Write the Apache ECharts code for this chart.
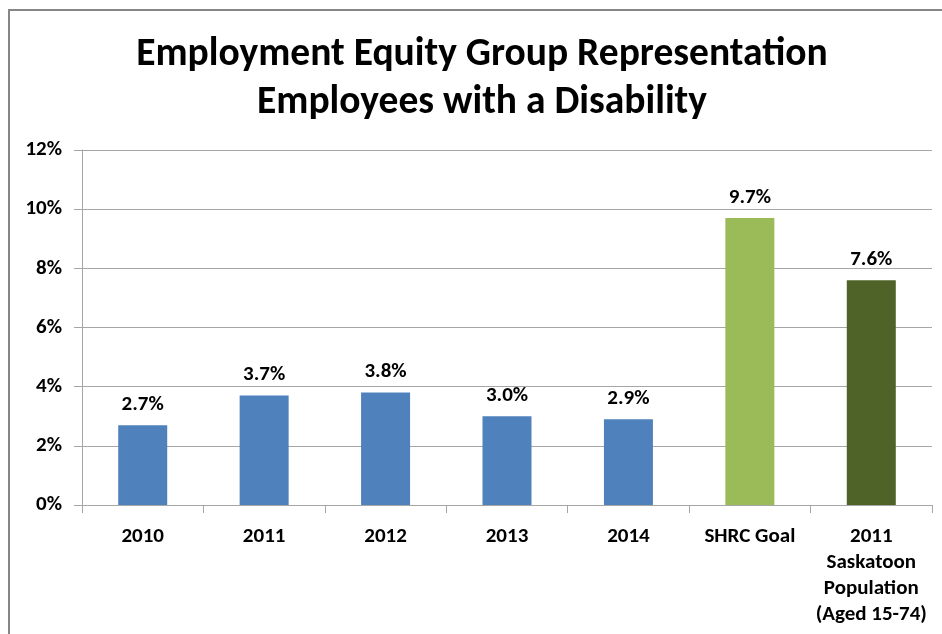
<!DOCTYPE html>
<html>
<head>
<meta charset="utf-8">
<script src="https://cdn.jsdelivr.net/npm/echarts@6/dist/echarts.min.js"></script>
<style>
  html, body { margin: 0; padding: 0; background: #fff; }
  #chart { width: 942px; height: 634px; }
</style>
</head>
<body>
<div id="chart"></div>
<script>
// Category names along the x axis
var categories = ['2010', '2011', '2012', '2013', '2014', 'SHRC Goal', '2011\nSaskatoon\nPopulation\n(Aged 15-74)'];
// Representation rate (%) for each category
var values = [2.7, 3.7, 3.8, 3.0, 2.9, 9.7, 7.6];
// Fill colour for each bar
var barColors = ['#4F81BD', '#4F81BD', '#4F81BD', '#4F81BD', '#4F81BD', '#9BBB59', '#4F6228'];
// Y axis range
var yMin = 0, yMax = 12, yStep = 2;

var FONT = 'Carlito, Calibri, Lato, sans-serif';

var chart = echarts.init(document.getElementById('chart'), null, { renderer: 'canvas' });

chart.setOption({
  backgroundColor: '#ffffff',
  animation: false,
  title: {
    text: 'Employment Equity Group Representation\nEmployees with a Disability',
    left: 477,
    top: 26,
    textAlign: 'center',
    textStyle: {
      fontFamily: FONT,
      fontWeight: 'bold',
      fontSize: 39.5,
      lineHeight: 48,
      color: '#000'
    }
  },
  graphic: [{
    type: 'rect',
    shape: { x: 9, y: 10, width: 960, height: 700 },
    style: { fill: 'none', stroke: '#868686', lineWidth: 2 },
    silent: true
  }],
  grid: { left: 82, right: 10, top: 150, bottom: 129 },
  xAxis: {
    type: 'category',
    data: categories,
    axisLine: { lineStyle: { color: '#A6A6A6', width: 1 } },
    axisTick: { show: true, length: 8, lineStyle: { color: '#A6A6A6' } },
    axisLabel: {
      interval: 0,
      margin: 19,
      fontFamily: FONT,
      fontWeight: 'bold',
      fontSize: 21,
      lineHeight: 26,
      color: '#000'
    }
  },
  yAxis: {
    type: 'value',
    min: yMin,
    max: yMax,
    interval: yStep,
    axisLine: { show: true, lineStyle: { color: '#A6A6A6', width: 1 } },
    axisTick: { show: true, length: 8, lineStyle: { color: '#A6A6A6' } },
    splitLine: { show: true, lineStyle: { color: '#A6A6A6', width: 1 } },
    axisLabel: {
      margin: 20,
      formatter: '{value}%',
      fontFamily: FONT,
      fontWeight: 'bold',
      fontSize: 21,
      color: '#000'
    }
  },
  series: [{
    type: 'bar',
    barWidth: 49,
    data: values.map(function (v, i) {
      return { value: v, itemStyle: { color: barColors[i] } };
    }),
    label: {
      show: true,
      position: 'top',
      distance: 10,
      formatter: function (p) { return p.value.toFixed(1) + '%'; },
      fontFamily: FONT,
      fontWeight: 'bold',
      fontSize: 21,
      color: '#000'
    }
  }]
});
</script>
</body>
</html>
